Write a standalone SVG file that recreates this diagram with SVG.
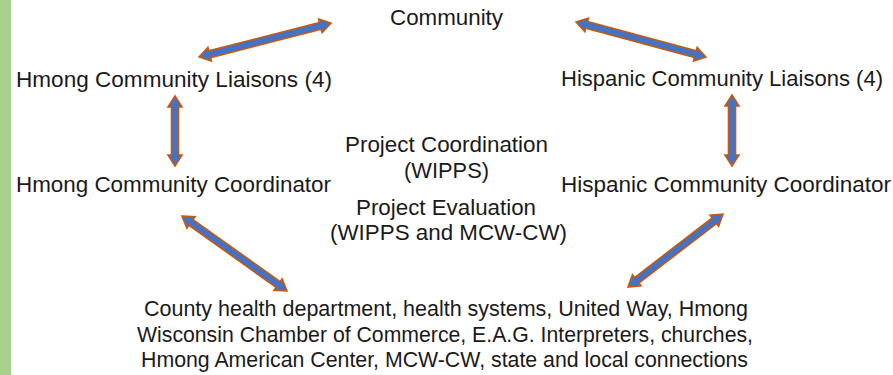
<svg xmlns="http://www.w3.org/2000/svg" width="893" height="375" viewBox="0 0 893 375">
<style>
text{font-family:"Liberation Sans",Arial,sans-serif;font-size:22px;fill:#1a1a1a}
.arr{fill:#4472c4;stroke:#c55a11;stroke-width:1.6;stroke-linejoin:miter}
</style>
<rect x="0" y="0" width="893" height="375" fill="#ffffff"/>
<rect x="0" y="0" width="11" height="375" fill="#a9d18e"/>
<g id="connectors">
<polygon class="arr" transform="translate(199,57) rotate(-14.4)" points="0,0 11,-7 11,-3.5 125.3,-3.5 125.3,-7 136.3,0 125.3,7 125.3,3.5 11,3.5 11,7"/>
<polygon class="arr" transform="translate(576,22) rotate(15.1)" points="0,0 11,-7 11,-3.5 123.6,-3.5 123.6,-7 134.6,0 123.6,7 123.6,3.5 11,3.5 11,7"/>
<polygon class="arr" transform="translate(175,96) rotate(90)" points="0,0 11,-7 11,-3.5 59,-3.5 59,-7 70,0 59,7 59,3.5 11,3.5 11,7"/>
<polygon class="arr" transform="translate(732,95) rotate(90)" points="0,0 11,-7 11,-3.5 60,-3.5 60,-7 71,0 60,7 60,3.5 11,3.5 11,7"/>
<polygon class="arr" transform="translate(182,216) rotate(35.5)" points="0,0 11,-7 11,-3.5 118,-3.5 118,-7 129,0 118,7 118,3.5 11,3.5 11,7"/>
<polygon class="arr" transform="translate(628,287) rotate(-37.5)" points="0,0 11,-7 11,-3.5 108.8,-3.5 108.8,-7 119.8,0 108.8,7 108.8,3.5 11,3.5 11,7"/>
</g>
<g id="community"><text x="390" y="25" textLength="113" lengthAdjust="spacingAndGlyphs">Community</text></g>
<g id="hmong-liaisons"><text x="16" y="87" textLength="316" lengthAdjust="spacingAndGlyphs">Hmong Community Liaisons (4)</text></g>
<g id="hispanic-liaisons"><text x="561" y="86" textLength="322" lengthAdjust="spacingAndGlyphs">Hispanic Community Liaisons (4)</text></g>
<g id="hmong-coordinator"><text x="16" y="192" textLength="315" lengthAdjust="spacingAndGlyphs">Hmong Community Coordinator</text></g>
<g id="hispanic-coordinator"><text x="561" y="192" textLength="330" lengthAdjust="spacingAndGlyphs">Hispanic Community Coordinator</text></g>
<g id="center">
<text x="345" y="152" textLength="203" lengthAdjust="spacingAndGlyphs">Project Coordination</text>
<text x="404" y="178" textLength="85" lengthAdjust="spacingAndGlyphs">(WIPPS)</text>
<text x="356" y="215" textLength="180" lengthAdjust="spacingAndGlyphs">Project Evaluation</text>
<text x="330" y="240" textLength="237" lengthAdjust="spacingAndGlyphs">(WIPPS and MCW-CW)</text>
</g>
<g id="partners">
<text x="144" y="316" textLength="604" lengthAdjust="spacingAndGlyphs">County health department, health systems, United Way, Hmong</text>
<text x="137" y="342" textLength="616" lengthAdjust="spacingAndGlyphs">Wisconsin Chamber of Commerce, E.A.G. Interpreters, churches,</text>
<text x="141" y="367" textLength="607" lengthAdjust="spacingAndGlyphs">Hmong American Center, MCW-CW, state and local connections</text>
</g>
</svg>
